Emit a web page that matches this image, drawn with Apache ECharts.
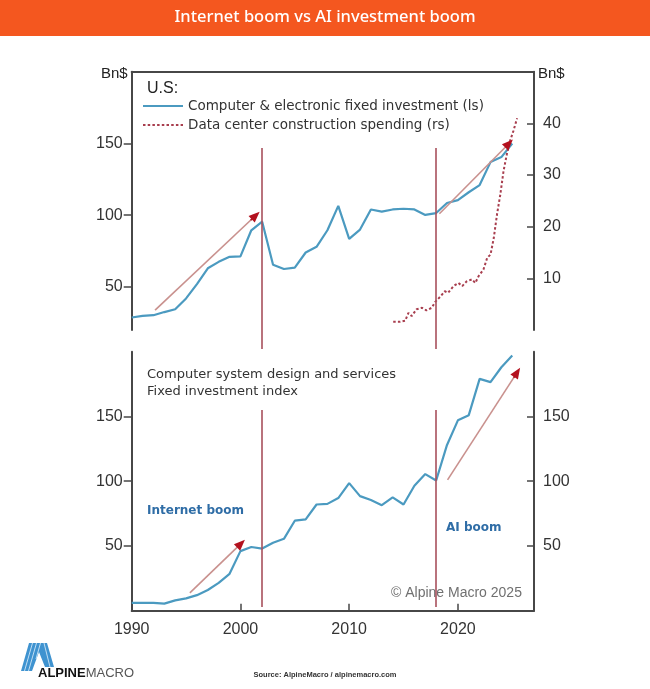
<!DOCTYPE html>
<html><head><meta charset="utf-8">
<script src="https://cdn.jsdelivr.net/npm/echarts@6/dist/echarts.min.js"></script>
<style>html,body{margin:0;padding:0;background:#fff}#c{width:650px;height:689px}</style>
</head><body><div id="c"></div>
<script>
// ---- data ----
const years = [1990,1991,1992,1993,1994,1995,1996,1997,1998,1999,2000,2001,2002,2003,2004,2005,2006,2007,2008,2009,2010,2011,2012,2013,2014,2015,2016,2017,2018,2019,2020,2021,2022,2023,2024,2025];
const compElec = [28.7,29.8,30.3,32.5,34.5,42,52,63,67.5,71,71.3,89.5,95.5,65.5,62.5,63.5,74,78,89.5,106.5,83.5,90,104,102.5,104,104.5,104,100.2,101.5,108.5,110.5,116,121,137,140.5,150];
const compSys = [6,6,6,5.5,8,9.5,12,16,21.5,28.5,46,49.2,48,52.5,55.5,69.5,70.5,82,82.5,87,98.5,88.5,85.5,81.5,87.5,82,96.5,105.5,100.5,128,147,151,179,176.5,188,197];
const dcYears = [2014.05,2014.7,2015.15,2015.45,2015.75,2016.2,2016.7,2017.1,2017.6,2017.9,2018.4,2018.8,2019.1,2019.6,2020.05,2020.4,2020.8,2021.3,2021.6,2021.9,2022.35,2022.7,2023.0,2023.3,2023.6,2023.9,2024.2,2024.5,2024.8,2025.1,2025.45];
const dcValues = [1.6,1.6,1.8,3.3,2.7,4.0,4.3,3.8,4.3,5.4,6.5,7.5,7.2,8.5,9.1,8.5,9.4,9.8,9.1,10.4,11.7,14.0,14.6,17.8,22.4,26.2,30.8,34.0,36.6,38.5,41.0];
const boomYears = [2002, 2018];
const arrowsTop = [[[1992.15,33.8],[2001.4,99.8]], [[2018.3,101],[2024.7,150]]];
const arrowsBottom = [[[1995.35,13.8],[2000.05,51.8]], [[2019.05,101],[2025.45,184]]];
const leftTicks = [50,100,150];
const rightTopTicks = [10,20,30,40];
const xTicks = [1990,2000,2010,2020];
const nameElec = 'Computer & electronic fixed investment (ls)';
const nameDC = 'Data center construction spending (rs)';

// ---- styles ----
const axisColor = '#474747';
const lab = {color:'#333', fontSize:16, fontFamily:'Liberation Sans, Arial, sans-serif'};
const blue = '#4B9AC0';
const vRed = '#A8505C';

function pairs(xs, ys){ return xs.map((x,i)=>[x, ys[i]]); }
function arrowLines(arrows){
  const out = [];
  arrows.forEach(([s,e])=>{
    out.push([{coord:s, symbol:'none', lineStyle:{color:'#C9918E', width:1.6, type:'solid'}}, {coord:e, symbol:'none'}]);
    const h = [e[0]-0.05*(e[0]-s[0]), e[1]-0.05*(e[1]-s[1])];
    out.push([{coord:h, symbol:'none', lineStyle:{color:'#B3111E', width:1.6, type:'solid'}}, {coord:e, symbol:'triangle', symbolSize:[9,11]}]);
  });
  return {silent:true, symbol:['none','none'], label:{show:false}, emphasis:{disabled:true}, animation:false,
    lineStyle:{type:'solid'}, data:out};
}
function vLines(){
  return {silent:true, symbol:['none','none'], label:{show:false}, emphasis:{disabled:true}, animation:false,
    lineStyle:{color:vRed, width:1.6, type:'solid'}, data: boomYears.map(y=>({xAxis:y}))};
}
function yAx(grid, min, max, pos, ticks, inside, name){
  const o = {gridIndex:grid, type:'value', min:min, max:max, position:pos,
    axisLine:{show:true, onZero:false, lineStyle:{color:axisColor, width:2}},
    axisTick:{show:true, inside:inside, length:inside?7:8, customValues:ticks, lineStyle:{color:axisColor, width:1.5}},
    axisLabel:Object.assign({customValues:ticks, margin:9}, lab),
    splitLine:{show:false}};
  if(name){
    o.name = name; o.nameLocation = 'end'; o.nameGap = -2;
    o.nameTextStyle = {fontSize:15, color:'#222', fontFamily:'Liberation Sans, Arial, sans-serif',
      align: pos==='left'?'right':'left', verticalAlign:'middle', padding: pos==='left'?[0,4,0,0]:[0,0,0,4]};
  }
  return o;
}
const G = {left:131.7, right:116};

const chart = echarts.init(document.getElementById('c'), null, {renderer:'canvas'});
chart.setOption({
  animation:false,
  backgroundColor:'#ffffff',
  title:{text:'Internet boom vs AI investment boom', left:'center', top:9, padding:0,
    textStyle:{color:'#ffffff', fontSize:16.5, fontWeight:500, fontFamily:'Noto Sans, sans-serif'}},
  legend:{left:142, top:99, padding:0, orient:'vertical', itemWidth:40, itemHeight:12, itemGap:5, selectedMode:false,
    itemStyle:{opacity:0},
    data:[nameElec, nameDC], textStyle:{fontFamily:'DejaVu Sans', fontSize:13.5, color:'#333'}},
  grid:[
    {left:G.left, right:G.right, top:71.7, height:258.3},
    {left:G.left, right:G.right, top:351.7, height:259},
    {left:G.left, right:G.right, top:148, height:201},
    {left:G.left, right:G.right, top:410, height:197}
  ],
  xAxis:[
    {gridIndex:0, type:'value', min:1990, max:2027, position:'top',
      axisLine:{show:true, onZero:false, lineStyle:{color:axisColor, width:2}}, axisTick:{show:false}, axisLabel:{show:false}, splitLine:{show:false}},
    {gridIndex:1, type:'value', min:1990, max:2027, interval:10, position:'bottom',
      axisLine:{show:true, onZero:false, lineStyle:{color:axisColor, width:2}},
      axisTick:{show:true, inside:true, length:7, customValues:xTicks, lineStyle:{color:axisColor, width:1.5}},
      axisLabel:Object.assign({customValues:xTicks, margin:11, formatter:function(v){return String(v);}}, lab), splitLine:{show:false}},
    {gridIndex:2, type:'value', min:1990, max:2027, show:false},
    {gridIndex:3, type:'value', min:1990, max:2027, show:false}
  ],
  yAxis:[
    yAx(0, 20, 200, 'left', leftTicks, false, 'Bn$'),
    yAx(0, 0, 50, 'right', rightTopTicks, true, 'Bn$'),
    yAx(1, 0, 200, 'left', leftTicks, false),
    yAx(1, 0, 200, 'right', leftTicks, true),
    {gridIndex:2, type:'value', min:0, max:1, show:false},
    {gridIndex:3, type:'value', min:0, max:1, show:false}
  ],
  series:[
    {type:'line', xAxisIndex:2, yAxisIndex:4, data:[], z:1, silent:true, markLine:vLines()},
    {type:'line', xAxisIndex:3, yAxisIndex:5, data:[], z:1, silent:true, markLine:vLines()},
    {name:nameElec, type:'line', xAxisIndex:0, yAxisIndex:0, data:pairs(years, compElec), symbol:'none', z:3,
      lineStyle:{color:blue, width:2.2}, itemStyle:{color:blue}, markLine:arrowLines(arrowsTop)},
    {name:nameDC, type:'line', xAxisIndex:0, yAxisIndex:1, data:pairs(dcYears, dcValues), symbol:'none', z:3,
      lineStyle:{color:'#A83E4E', width:2, type:[2.5,2.2]}, itemStyle:{color:'#A83E4E'}},
    {name:'Computer system design and services', type:'line', xAxisIndex:1, yAxisIndex:2, data:pairs(years, compSys), symbol:'none', z:3,
      lineStyle:{color:blue, width:2.2}, itemStyle:{color:blue}, markLine:arrowLines(arrowsBottom)}
  ],
  graphic:[
    {type:'rect', z:-1, shape:{x:0, y:0, width:650, height:36}, style:{fill:'#F4571F'}},
    {type:'text', x:147, y:89, style:{text:'U.S:', fill:'#222', fontSize:16, fontFamily:'Liberation Sans, Arial, sans-serif', verticalAlign:'middle'}},
    {type:'text', x:147, y:375, style:{text:'Computer system design and services', fill:'#333', fontSize:13, fontFamily:'DejaVu Sans', verticalAlign:'middle'}},
    {type:'text', x:147, y:392, style:{text:'Fixed investment index', fill:'#333', fontSize:13, fontFamily:'DejaVu Sans', verticalAlign:'middle'}},
    {type:'text', x:147, y:511, style:{text:'Internet boom', fill:'#2F6DA6', fontSize:12, fontWeight:'bold', fontFamily:'DejaVu Sans', verticalAlign:'middle'}},
    {type:'text', x:446, y:528, style:{text:'AI boom', fill:'#2F6DA6', fontSize:12, fontWeight:'bold', fontFamily:'DejaVu Sans', verticalAlign:'middle'}},
    {type:'text', x:391, y:593, style:{text:'\u00A9 Alpine Macro 2025', fill:'#707070', fontSize:14, fontFamily:'Liberation Sans, Arial, sans-serif', verticalAlign:'middle'}},
    {type:'text', x:325, y:675, style:{text:'Source: AlpineMacro / alpinemacro.com', fill:'#333', fontSize:7.5, fontWeight:'bold', fontFamily:'Liberation Sans, Arial, sans-serif', align:'center', verticalAlign:'middle'}},
    {type:'polygon', shape:{points:[[29,643],[47,643],[54,667],[45,667],[39,652],[32,671],[21,671]]}, style:{fill:'#3F93D0'}},
    {type:'line', shape:{x1:32.5,y1:643,x2:24.5,y2:671}, style:{stroke:'#CFE7F7', lineWidth:0.9}},
    {type:'line', shape:{x1:36.5,y1:643,x2:28.5,y2:671}, style:{stroke:'#CFE7F7', lineWidth:0.9}},
    {type:'line', shape:{x1:40.5,y1:643,x2:36,y2:659}, style:{stroke:'#CFE7F7', lineWidth:0.9}},
    {type:'line', shape:{x1:44,y1:643,x2:50,y2:667}, style:{stroke:'#CFE7F7', lineWidth:0.9}},
    {type:'text', x:38, y:673, style:{text:'{a|ALPINE}{b|MACRO}', verticalAlign:'middle',
      rich:{a:{fontSize:13, fontWeight:'bold', fill:'#111', fontFamily:'Liberation Sans, Arial, sans-serif'},
            b:{fontSize:13, fill:'#555', fontFamily:'Liberation Sans, Arial, sans-serif'}}}}
  ]
});
</script></body></html>
